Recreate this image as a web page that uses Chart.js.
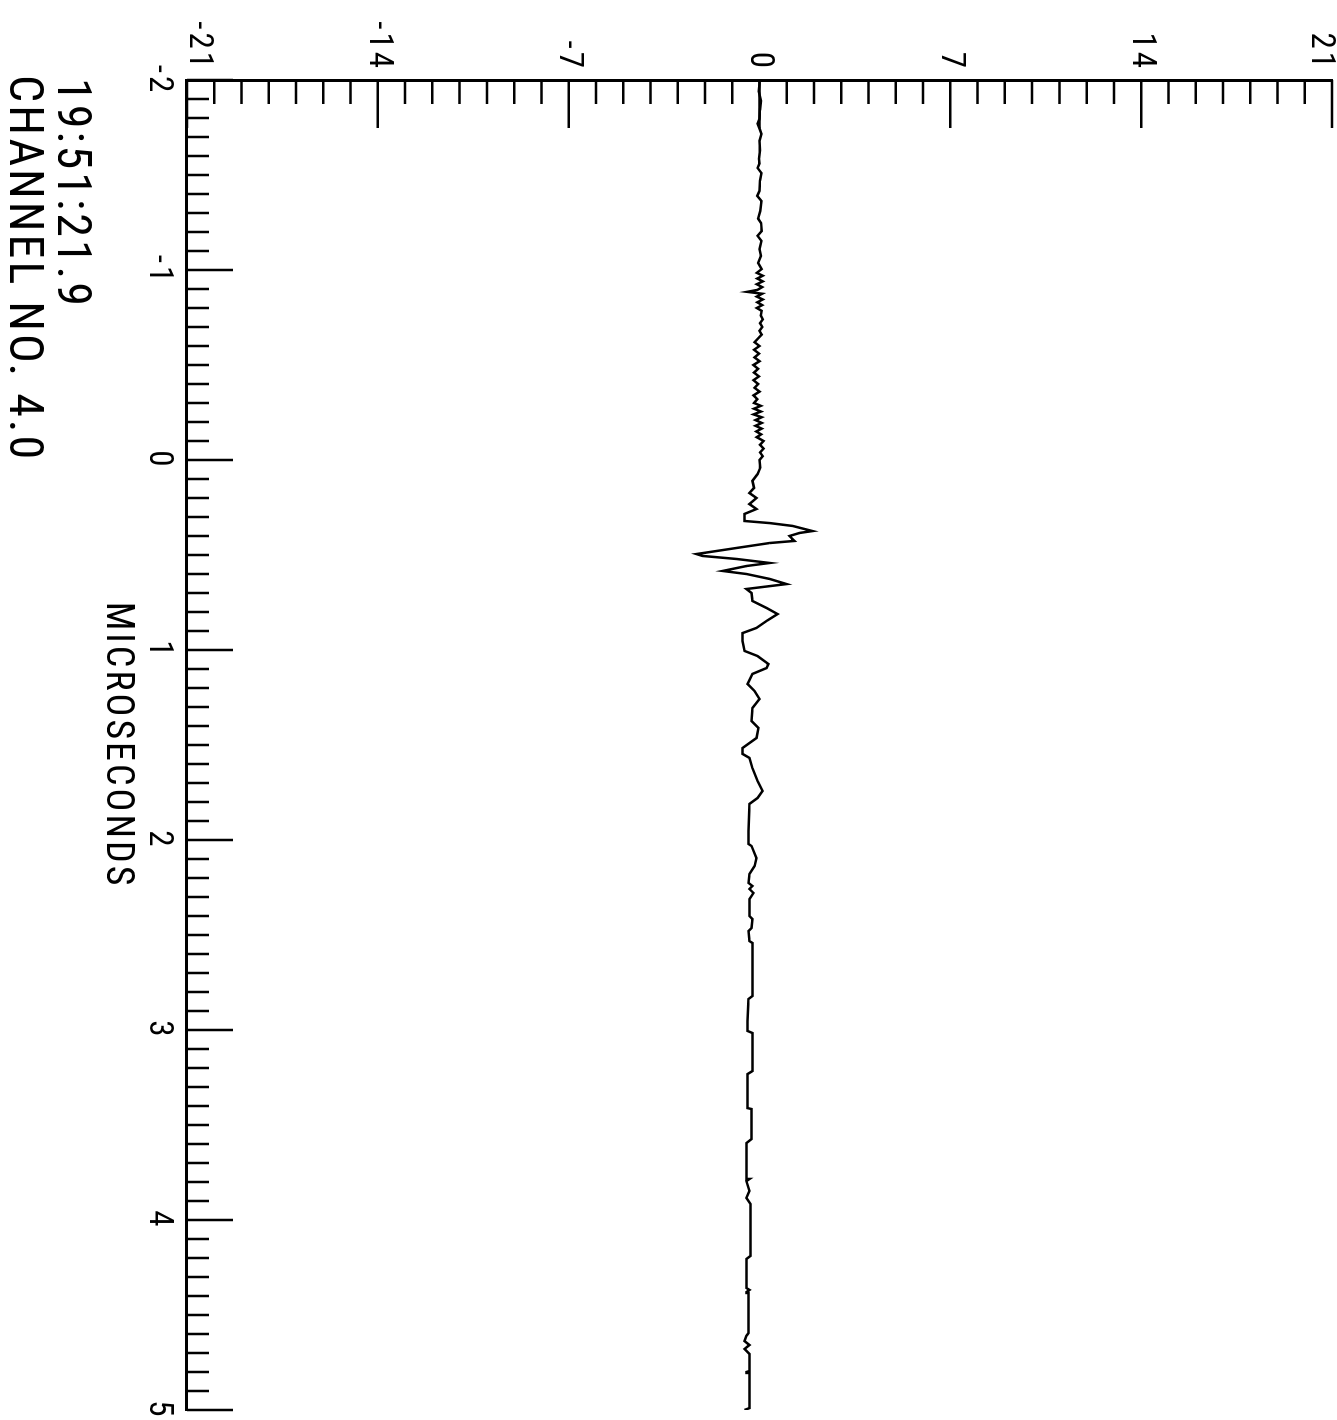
<!DOCTYPE html>
<html>
<head>
<meta charset="utf-8">
<script src="https://cdn.jsdelivr.net/npm/chart.js@4.4.1/dist/chart.umd.min.js"></script>
<style>
html, body { margin: 0; padding: 0; background: #fff; overflow: hidden; width: 1337px; height: 1420px; }
#wrap { position: absolute; left: 0; top: 0; width: 1420px; height: 1337px;
        transform-origin: 0 0; transform: translate(1337px, 0) rotate(90deg); background: #fff; }
canvas { display: block; }
</style>
</head>
<body>
<div id="wrap"><canvas id="c" width="1420" height="1337"></canvas></div>
<script>
// ---- data (time in microseconds, amplitude) ----
const timeUs = [
  -2.00, -1.98, -1.94, -1.89, -1.84, -1.795, -1.77, -1.745, -1.716, -1.68,
  -1.63, -1.585, -1.56, -1.537, -1.51, -1.47, -1.416, -1.39, -1.363, -1.31,
  -1.27, -1.247, -1.205, -1.18, -1.153, -1.11, -1.074, -1.037, -1.005,
  -0.985, -0.97, -0.955, -0.94, -0.925, -0.91, -0.895, -0.885, -0.875, -0.86,
  -0.845, -0.83, -0.815, -0.80, -0.785,
  -0.76, -0.74, -0.72, -0.70, -0.68, -0.66, -0.64,
  -0.62, -0.60, -0.58, -0.56, -0.54, -0.52, -0.50, -0.48, -0.46, -0.44,
  -0.42, -0.40, -0.38, -0.36, -0.34, -0.32, -0.30,
  -0.285, -0.27, -0.255, -0.24, -0.225, -0.21, -0.195, -0.18, -0.165, -0.15, -0.135, -0.12,
  -0.10, -0.08, -0.06, -0.04, -0.02, 0.00,
  0.04, 0.074, 0.11, 0.147, 0.174, 0.20, 0.232, 0.258, 0.284, 0.321,
  0.332, 0.347, 0.374, 0.384, 0.40, 0.426, 0.437, 0.463, 0.495, 0.505,
  0.521, 0.542, 0.558, 0.584, 0.60, 0.626, 0.653, 0.679, 0.70, 0.742,
  0.779, 0.811, 0.847, 0.884, 0.911, 0.953, 1.005, 1.032, 1.074, 1.095,
  1.126, 1.179, 1.216, 1.258, 1.305, 1.374, 1.41, 1.463, 1.516, 1.547,
  1.568, 1.621, 1.69, 1.742, 1.779, 1.81, 1.953, 2.021, 2.032, 2.095,
  2.137, 2.179, 2.226, 2.242, 2.258, 2.279, 2.311, 2.40, 2.416, 2.463,
  2.479, 2.532, 2.542, 2.821, 2.837, 2.953, 3.005, 3.016, 3.216, 3.232,
  3.411, 3.416, 3.574, 3.595, 3.779, 3.784, 3.795, 3.847, 3.884, 3.916,
  4.189, 4.205, 4.358, 4.368, 4.379, 4.384, 4.595, 4.61, 4.637, 4.658,
  4.679, 4.705, 4.795, 4.80, 4.805, 4.99, 5.00
];
const amplitude = [
  0.00, 0.00, -0.03, 0.05, 0.02, 0.00, -0.07, 0.00, 0.07, 0.00,
  0.02, -0.02, 0.00, -0.07, 0.07, 0.02, 0.00, -0.08, 0.07, 0.03,
  -0.05, 0.06, 0.08, -0.07, 0.07, 0.00, 0.05, -0.05, 0.08,
  -0.10, 0.12, -0.08, 0.12, -0.10, 0.10, -0.08, -0.45, 0.10, -0.10,
  0.12, -0.08, 0.10, -0.10, 0.08,
  0.05, 0.12, 0.02, 0.10, 0.00, 0.08, -0.05,
  -0.18, 0.00, -0.20, -0.02, -0.18, 0.00, -0.22, -0.05, -0.20, -0.02,
  -0.22, -0.05, -0.18, 0.00, -0.22, -0.08, -0.20,
  0.05, -0.20, 0.05, -0.22, 0.08, -0.15, 0.08, -0.15, 0.08, -0.12, 0.06, -0.10,
  0.15, 0.02, 0.15, 0.02, 0.12, 0.00,
  0.03, -0.07, -0.26, -0.20, -0.37, -0.11, -0.37, -0.11, -0.55, -0.55,
  0.37, 1.21, 1.94, 1.47, 1.10, 1.28, 0.37, -0.84, -2.31, -2.09,
  -0.84, 0.37, -0.48, -1.35, -0.48, 0.37, 0.99, -0.48, -0.29, -0.26,
  0.26, 0.66, 0.26, -0.11, -0.62, -0.62, -0.55, -0.07, 0.33, 0.26,
  -0.26, -0.44, -0.18, 0.00, -0.26, -0.29, -0.04, -0.11, -0.62, -0.62,
  -0.37, -0.26, -0.07, 0.11, -0.07, -0.37, -0.40, -0.40, -0.29, -0.11,
  -0.18, -0.37, -0.40, -0.26, -0.37, -0.22, -0.37, -0.37, -0.26, -0.29,
  -0.40, -0.37, -0.26, -0.26, -0.40, -0.44, -0.44, -0.26, -0.26, -0.44,
  -0.44, -0.29, -0.29, -0.48, -0.48, -0.37, -0.48, -0.37, -0.48, -0.33,
  -0.33, -0.48, -0.48, -0.37, -0.48, -0.40, -0.40, -0.48, -0.55, -0.37,
  -0.55, -0.37, -0.37, -0.48, -0.37, -0.37, -0.55
];
const timeTickLabels = ['-2', '-1', '0', '1', '2', '3', '4', '5'];
const valueTickLabels = ['-21', '-14', '-7', '0', '7', '14', '21'];
const xAxisTitle = 'MICROSECONDS';
const footerLines = ['19:51:21.9', 'CHANNEL NO. 4.0'];

const TIME_MIN = -2, TIME_MAX = 5, VALUE_MIN = -21, VALUE_MAX = 21, VALUE_STEP = 7;
const FONT = "'Roboto Condensed', 'DejaVu Sans Condensed', sans-serif";

const plotterPlugin = {
  id: 'plotter',
  beforeDraw(chart) {
    chart.ctx.letterSpacing = '3px';
  },
  afterDraw(chart) {
    const { ctx, chartArea: a, scales: { x, y } } = chart;
    ctx.save();
    ctx.strokeStyle = '#000';
    ctx.lineWidth = 2.5;
    ctx.beginPath();
    // inward tick marks on the amplitude axis (1 unit minor, 7 unit major)
    for (let i = 0; i <= VALUE_MAX - VALUE_MIN; i++) {
      const py = y.getPixelForValue(VALUE_MIN + i);
      const len = (i % VALUE_STEP === 0) ? 48 : 24;
      ctx.moveTo(a.left, py); ctx.lineTo(a.left + len, py);
    }
    // inward tick marks on the time axis (0.1 us minor, 1 us major)
    for (let i = 0; i <= (TIME_MAX - TIME_MIN) * 10; i++) {
      const px = x.getPixelForValue(TIME_MIN + i / 10);
      const len = (i % 10 === 0) ? 46 : 22;
      ctx.moveTo(px, a.bottom); ctx.lineTo(px, a.bottom - len);
    }
    ctx.stroke();
    // annotation lines under the time axis
    ctx.fillStyle = '#000';
    ctx.font = '48px ' + FONT;
    ctx.letterSpacing = '3px';
    ctx.textAlign = 'left';
    ctx.textBaseline = 'alphabetic';
    ctx.fillText(footerLines[0], a.left - 2, chart.height - 58);
    ctx.fillText(footerLines[1], a.left - 5, chart.height - 10);
    ctx.restore();
  }
};

new Chart(document.getElementById('c'), {
  type: 'line',
  data: {
    datasets: [{
      data: timeUs.map((t, i) => ({ x: t, y: amplitude[i] })),
      borderColor: '#000',
      borderWidth: 2.5,
      pointRadius: 0,
      tension: 0,
      fill: false
    }]
  },
  options: {
    responsive: false,
    animation: false,
    devicePixelRatio: 1,
    layout: { padding: { top: 5, right: 10, bottom: 0, left: 0 } },
    plugins: { legend: { display: false }, tooltip: { enabled: false }, title: { display: false } },
    scales: {
      x: {
        type: 'linear', min: TIME_MIN, max: TIME_MAX,
        grid: { display: false, drawTicks: false },
        border: { display: true, color: '#000', width: 3 },
        ticks: {
          stepSize: 1, autoSkip: false, maxRotation: 0, padding: 9, color: '#000',
          font: { family: FONT, size: 33, lineHeight: 1.2 },
          callback: (v) => timeTickLabels[Math.round(v - TIME_MIN)]
        },
        title: {
          display: true, text: xAxisTitle, color: '#000',
          font: { family: FONT, size: 38, lineHeight: 1.2 },
          padding: { top: 0, bottom: 94 }
        },
        afterFit: (s) => { s.height = 187; s.paddingLeft = 0; s.paddingRight = 0; }
      },
      y: {
        type: 'linear', min: VALUE_MIN, max: VALUE_MAX,
        grid: { display: false, drawTicks: false },
        border: { display: true, color: '#000', width: 3 },
        ticks: {
          stepSize: VALUE_STEP, autoSkip: false, padding: 9, color: '#000',
          font: { family: FONT, size: 33, lineHeight: 0.7 },
          callback: (v) => {
            const i = Math.round((v - VALUE_MIN) / VALUE_STEP);
            const s = valueTickLabels[i];
            if (i === 0) return [s, ''];
            if (i === valueTickLabels.length - 1) return ['', s];
            return s;
          }
        },
        afterFit: (s) => { s.width = 80; s.paddingTop = 0; s.paddingBottom = 0; }
      }
    }
  },
  plugins: [plotterPlugin]
});
</script>
</body>
</html>
